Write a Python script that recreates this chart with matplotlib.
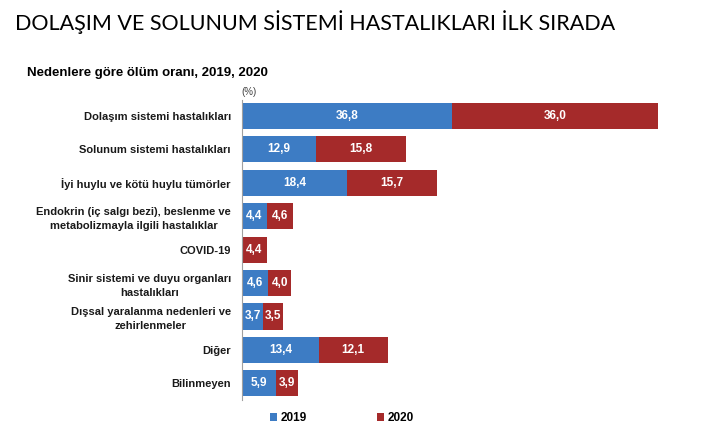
import matplotlib
matplotlib.use("Agg")
import matplotlib.pyplot as plt
import numpy as np

categories = [
    "Dolaşım sistemi hastalıkları",
    "Solunum sistemi hastalıkları",
    "İyi huylu ve kötü huylu tümörler",
    "Endokrin (iç salgı bezi), beslenme ve\nmetabolizmayla ilgili hastalıklar",
    "COVID-19",
    "Sinir sistemi ve duyu organları\nhastalıkları",
    "Dışsal yaralanma nedenleri ve\nzehirlenmeler",
    "Diğer",
    "Bilinmeyen",
]
values_2019 = [36.8, 12.9, 18.4, 4.4, 0.0, 4.6, 3.7, 13.4, 5.9]
values_2020 = [36.0, 15.8, 15.7, 4.6, 4.4, 4.0, 3.5, 12.1, 3.9]
series_names = ["2019", "2020"]

c2019 = "#3d7cc4"
c2020 = "#a52a2a"

W, H = 701, 442
fig = plt.figure(figsize=(W / 100, H / 100), dpi=100)
fig.patch.set_facecolor("white")

ax_left, ax_right = 242 / W, 680 / W
top_px, bot_px = 100, 400
ax = fig.add_axes([ax_left, 1 - bot_px / H, ax_right - ax_left, (bot_px - top_px) / H])

n = len(categories)
y = np.arange(n)
bh = 0.78
ax.barh(y, values_2019, height=bh, color=c2019, label=series_names[0])
ax.barh(y, values_2020, left=values_2019, height=bh, color=c2020, label=series_names[1])

def fmt(v):
    return f"{v:.1f}".replace(".", ",")

for i in range(n):
    if values_2019[i] > 0:
        ax.text(values_2019[i] / 2, y[i], fmt(values_2019[i]), ha="center", va="center",
                color="white", fontsize=8.5, fontweight="bold", family="Liberation Sans")
    ax.text(values_2019[i] + values_2020[i] / 2, y[i], fmt(values_2020[i]), ha="center",
            va="center", color="white", fontsize=8.5, fontweight="bold", family="Liberation Sans")

ax.set_xlim(0, (680 - 242) / 5.71)
ax.set_ylim(8.50, -0.48)
ax.set_yticks(y)
ax.set_yticklabels(categories, fontsize=8, fontweight="bold", family="Liberation Sans",
                   color="#1a1a1a", linespacing=1.45)
for lab in ax.get_yticklabels():
    lab.set_multialignment("center")
ax.tick_params(axis="y", length=0, pad=8)
ax.set_xticks([])
for s in ["top", "right", "bottom"]:
    ax.spines[s].set_visible(False)
ax.spines["left"].set_color("#a0a0a0")
ax.spines["left"].set_linewidth(0.8)

fig.text(15 / W, 1 - 22 / H, "DOLAŞIM VE SOLUNUM SİSTEMİ HASTALIKLARI İLK SIRADA",
         fontsize=15.5, family="Lato", va="center", ha="left", color="black")
fig.text(27 / W, 1 - 73 / H, "Nedenlere göre ölüm oranı, 2019, 2020",
         fontsize=9.5, fontweight="bold", family="Liberation Sans", va="center", ha="left")
fig.text(249 / W, 1 - 92 / H, "(%)", fontsize=7, family="Liberation Sans",
         va="center", ha="center", color="#404040")

leg = fig.legend(handles=ax.patches[:1] + ax.patches[n:n + 1], labels=series_names,
                 loc="center", bbox_to_anchor=(342 / W, 1 - 418 / H), ncol=2,
                 frameon=False, handlelength=0.6, handleheight=0.6, columnspacing=5.9,
                 handletextpad=0.3, prop={"family": "Liberation Sans", "weight": "bold", "size": 8.5})

fig.savefig("out.png", dpi=100, facecolor="white")
